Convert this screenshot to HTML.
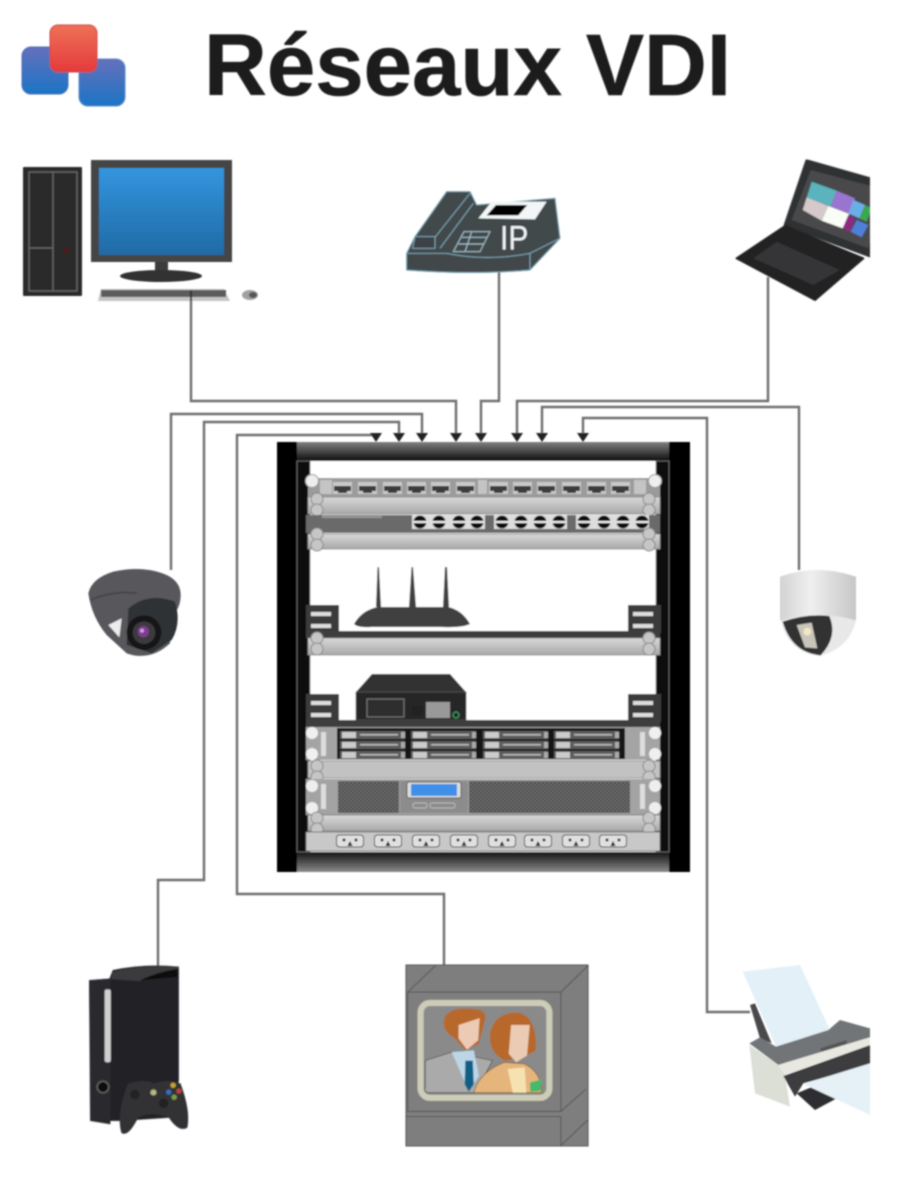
<!DOCTYPE html>
<html><head><meta charset="utf-8"><title>Réseaux VDI</title>
<style>html,body{margin:0;padding:0;background:#fff}svg{display:block}</style></head>
<body>
<svg xmlns="http://www.w3.org/2000/svg" width="908" height="1198" viewBox="0 0 908 1198" font-family="'Liberation Sans',sans-serif">
<defs>
<filter id="b" x="-5%" y="-5%" width="110%" height="110%"><feGaussianBlur stdDeviation="0.9"/></filter>
<linearGradient id="blue" x1="0" y1="0" x2="0" y2="1"><stop offset="0" stop-color="#6470bb"/><stop offset="1" stop-color="#1b74c6"/></linearGradient>
<linearGradient id="red" x1="0" y1="0" x2="0" y2="1"><stop offset="0" stop-color="#ee7056"/><stop offset="1" stop-color="#e43a3c"/></linearGradient>
<linearGradient id="scr" x1="0" y1="0" x2="0" y2="1"><stop offset="0" stop-color="#3395de"/><stop offset="1" stop-color="#1f6aa5"/></linearGradient>
<linearGradient id="top" x1="0" y1="0" x2="0" y2="1"><stop offset="0" stop-color="#808080"/><stop offset="1" stop-color="#0c0c0c"/></linearGradient>
<linearGradient id="bot" x1="0" y1="0" x2="0" y2="1"><stop offset="0" stop-color="#0c0c0c"/><stop offset="1" stop-color="#8a8a8a"/></linearGradient>
<linearGradient id="shelf" x1="0" y1="0" x2="0" y2="1"><stop offset="0" stop-color="#d8d8d8"/><stop offset="1" stop-color="#a8a8a8"/></linearGradient>
<linearGradient id="dome" x1="0" y1="0" x2="1" y2="0"><stop offset="0" stop-color="#d2d2d2"/><stop offset=".4" stop-color="#efefef"/><stop offset="1" stop-color="#c6c6c6"/></linearGradient>
<pattern id="mesh" width="4" height="4" patternUnits="userSpaceOnUse"><rect width="4" height="4" fill="#6d6d6d"/><circle cx="1" cy="1" r="1" fill="#3f3f3f"/><circle cx="3" cy="3" r="1" fill="#3f3f3f"/></pattern>
<g id="port"><rect x="0" y="0" width="19" height="12" fill="#c9c9c9"/><rect x="1" y="4" width="17" height="5" fill="#3a3a3a"/><rect x="5" y="8" width="9" height="3" fill="#3a3a3a"/></g>
<g id="rj"><circle r="6.5" fill="#0c0c0c"/><rect x="-7" y="-1" width="14" height="2" fill="#eee"/></g>
<g id="ear"><circle cx="0" cy="0" r="6" fill="#c6c6c6" stroke="#888"/><circle cx="0" cy="11" r="6" fill="#c6c6c6" stroke="#888"/></g>
<g id="outlet"><rect x="-13.500" y="-6" width="27" height="12" rx="3" fill="#e0e0e0" stroke="#444" stroke-width="1"/><circle cx="-6" cy="-1" r="1.500" fill="#111"/><circle cx="6" cy="-1" r="1.500" fill="#111"/><path d="M-2.500 5L0 0L2.500 5Z" fill="#111"/></g>
<g id="bay"><rect x="0" y="0" width="65" height="8" fill="#5c5c5c"/><rect x="2" y="1" width="14" height="6" fill="#ccc"/><rect x="20" y="3" width="38" height="1.500" fill="#bbb"/><rect x="61" y="1" width="4" height="6" fill="#aaa"/></g>
<g id="col"><use href="#bay" y="0"/><use href="#bay" y="10"/><use href="#bay" y="20"/></g>
<g id="brk"><rect x="0" y="0" width="33" height="28" fill="#3a3a3a"/><rect x="5" y="7" width="20" height="4" fill="#ddd"/><rect x="5" y="19" width="20" height="4" fill="#ddd"/></g>
<clipPath id="clipR"><rect x="0" y="0" width="870" height="1198"/></clipPath>
</defs>

<g filter="url(#b)">
<!-- Logo -->
<rect x="22" y="47" width="46" height="47" rx="9" fill="url(#blue)" stroke="#4a6fb0"/>
<rect x="79" y="59" width="46" height="47" rx="9" fill="url(#blue)" stroke="#5a8fc8"/>
<rect x="50" y="25" width="47" height="47" rx="8" fill="url(#red)" stroke="#cc4a48"/>
<!-- Title -->
<text x="204" y="95" font-size="87" font-weight="700" fill="#1c1c1c" stroke="#1c1c1c" stroke-width=".6" textLength="527" lengthAdjust="spacingAndGlyphs">Réseaux VDI</text>

<!-- Connectors -->
<g fill="none" stroke="#6e6e6e" stroke-width="2.400">
<path d="M191 292V401H456V434"/>
<path d="M499 270V401H481V434"/>
<path d="M768 277V401H517V434"/>
<path d="M799 570V407H542V434"/>
<path d="M750 1012H707V418H583V434"/>
<path d="M171 570V414H422V434"/>
<path d="M158 967V880H204V422H399V434"/>
<path d="M444 967V894H237V435H376"/>
</g>
<g fill="#222">
<path d="M370 433H382L376 442Z"/><path d="M393 433H405L399 442Z"/><path d="M416 433H428L422 442Z"/><path d="M450 433H462L456 442Z"/><path d="M475 433H487L481 442Z"/><path d="M511 433H523L517 442Z"/><path d="M536 433H548L542 442Z"/><path d="M577 433H589L583 442Z"/>
</g>

<!-- Desktop PC -->
<rect x="23" y="167" width="59" height="129" rx="1" fill="#2b2b2b"/>
<g fill="none" stroke="#6a6a6a" stroke-width="1.200">
<rect x="29" y="172" width="48" height="119"/><path d="M53 172V291M29 248H53"/>
</g>
<circle cx="66" cy="250" r="3" fill="#4a1a1a"/>
<rect x="91" y="160" width="141" height="102" fill="#444"/>
<rect x="99" y="168" width="125" height="87" fill="url(#scr)"/>
<rect x="155" y="262" width="13" height="12" fill="#3a3a3a"/>
<ellipse cx="161" cy="276" rx="41" ry="6" fill="#333"/>
<path d="M101 289H224L230 301H98Z" fill="#c4c4c4"/>
<rect x="101" y="290" width="125" height="7" fill="#5c5c5c"/>
<rect x="190" y="290" width="2" height="11" fill="#333"/>
<ellipse cx="250" cy="295" rx="8" ry="5" fill="#a0a0a0"/>
<ellipse cx="253" cy="295" rx="4" ry="3" fill="#555"/>

<!-- IP phone -->
<g transform="translate(390,150) scale(.33333)">
<path d="M50 310L75 260L170 125L240 125L260 165L495 145L510 265L420 360Q250 375 50 360Z" fill="#43484c" stroke="#7ba5b5" stroke-width="3"/>
<path d="M50 310H170Q290 335 420 310V360Q250 375 50 360Z" fill="#42464a" stroke="#7ba5b5" stroke-width="3"/>
<path d="M420 310L510 265" stroke="#7ba5b5" stroke-width="3"/>
<path d="M75 260H135V295H68Z" fill="#3d4246" stroke="#7ba5b5" stroke-width="3"/>
<path d="M135 262L240 130M150 295L250 160" stroke="#7ba5b5" stroke-width="3" fill="none"/>
<path d="M265 205L305 155H470L435 208Z" fill="#f2f6f7"/>
<path d="M290 196L318 165H412L385 196Z" fill="#000"/>
<path d="M222 245H300L270 305H190ZM215 262H290M205 282H280M245 245L225 305" fill="none" stroke="#a5c3cf" stroke-width="3"/>
<text x="330" y="298" font-size="104" fill="#f0f3f4" textLength="85" lengthAdjust="spacingAndGlyphs">IP</text>
</g>

<!-- Laptop -->
<g clip-path="url(#clipR)">
<g transform="translate(390,150) scale(.33333)">
<path d="M1250 32L1490 100L1445 320L1185 225Z" fill="#2e3033" stroke="#2e3033" stroke-width="8" stroke-linejoin="round"/>
<path d="M1262 60L1480 118L1435 295L1205 210Z" fill="#48494c"/>
<path d="M1265 95L1340 122L1322 170L1250 142Z" fill="#5ab3bd"/>
<path d="M1340 122L1395 145L1380 192L1322 170Z" fill="#9a74cf"/>
<path d="M1250 142L1315 168L1295 212L1238 180Z" fill="#d5c9cb"/>
<path d="M1315 168L1378 192L1358 235L1295 212Z" fill="#fafdf6"/>
<path d="M1390 150L1425 165L1408 205L1375 190Z" fill="#6aaee8"/>
<path d="M1425 165L1445 175L1430 215L1408 205Z" fill="#3aa850"/>
<path d="M1375 195L1395 205L1380 245L1358 235Z" fill="#8d2a80"/>
<path d="M1400 210L1435 225L1415 262L1382 245Z" fill="#4f80d8"/>
<path d="M1185 228L1420 325L1275 450L1040 325Z" fill="#222224" stroke="#222224" stroke-width="6" stroke-linejoin="round"/>
<path d="M1160 275L1350 360L1270 405L1090 325Z" fill="#353537"/>
</g>
</g>

<!-- Rack -->
<rect x="277" y="442" width="20" height="430" fill="#000"/>
<rect x="669" y="442" width="21" height="430" fill="#000"/>
<rect x="297" y="442" width="372" height="19" fill="url(#top)"/>
<rect x="297" y="851" width="372" height="21" fill="url(#bot)"/>
<rect x="297" y="461" width="372" height="391" fill="#fff"/>
<rect x="297" y="461" width="13" height="391" fill="#0c0c0c" stroke="#777" stroke-width=".8"/>
<rect x="656" y="461" width="13" height="391" fill="#0c0c0c" stroke="#777" stroke-width=".8"/>

<!-- unit1 patch panel -->
<rect x="308" y="478" width="352" height="19" fill="#9b9b9b"/>
<rect x="320" y="480" width="12" height="14" fill="#c4c4c4"/>
<rect x="478" y="480" width="9" height="14" fill="#c4c4c4"/>
<rect x="634" y="480" width="12" height="14" fill="#c4c4c4"/>
<use href="#port" x="333" y="482"/><use href="#port" x="358" y="482"/><use href="#port" x="383" y="482"/><use href="#port" x="407" y="482"/><use href="#port" x="431" y="482"/><use href="#port" x="456" y="482"/>
<use href="#port" x="489" y="482"/><use href="#port" x="513" y="482"/><use href="#port" x="537" y="482"/><use href="#port" x="562" y="482"/><use href="#port" x="587" y="482"/><use href="#port" x="611" y="482"/>
<circle cx="312" cy="481" r="6.500" fill="#eee" stroke="#999"/><circle cx="655" cy="481" r="6.500" fill="#eee" stroke="#999"/>
<rect x="308" y="497" width="352" height="17" fill="url(#shelf)" stroke="#888" stroke-width=".8"/>
<use href="#ear" x="317" y="499"/><use href="#ear" x="649" y="499"/>
<!-- unit2 switch -->
<rect x="306" y="515" width="354" height="18" fill="#6a6a6a"/>
<rect x="322" y="516" width="60" height="2" fill="#999"/>
<rect x="412" y="515" width="73" height="14" fill="#ddd"/><rect x="494" y="515" width="73" height="14" fill="#ddd"/><rect x="576" y="515" width="73" height="14" fill="#ddd"/>
<use href="#rj" x="420" y="522"/><use href="#rj" x="439" y="522"/><use href="#rj" x="459" y="522"/><use href="#rj" x="477" y="522"/><use href="#rj" x="502" y="522"/><use href="#rj" x="521" y="522"/><use href="#rj" x="540" y="522"/><use href="#rj" x="559" y="522"/><use href="#rj" x="584" y="522"/><use href="#rj" x="604" y="522"/><use href="#rj" x="623" y="522"/><use href="#rj" x="642" y="522"/>
<rect x="308" y="534" width="352" height="15" fill="url(#shelf)" stroke="#888" stroke-width=".8"/>
<use href="#ear" x="317" y="534"/><use href="#ear" x="649" y="534"/>

<!-- router -->
<path d="M376 607L377.500 567H379L381 607ZM409 607L411.500 567H413L416 607ZM443 607L445 567H447L449 607Z" fill="#404040"/>
<path d="M354 624Q362 610 378 607H448Q462 610 470 624Q462 628 440 627H372Q358 628 354 624Z" fill="#404040"/>
<use href="#brk" x="306" y="605"/><use href="#brk" x="628" y="605"/>
<rect x="306" y="631" width="354" height="7" fill="#3c3c3c"/>
<rect x="308" y="638" width="352" height="17" fill="url(#shelf)" stroke="#888" stroke-width=".8"/>
<use href="#ear" x="317" y="638"/><use href="#ear" x="649" y="638"/>

<!-- appliance on shelf -->
<path d="M356 692L372 674H450L466 692V720H356Z" fill="#333"/>
<rect x="356" y="692" width="110" height="28" fill="#262626" stroke="#555" stroke-width=".8"/>
<rect x="367" y="699" width="37" height="18" fill="#2e2e2e" stroke="#777"/>
<rect x="412" y="706" width="11" height="10" fill="#222"/>
<rect x="426" y="702" width="24" height="16" fill="#999"/>
<circle cx="456" cy="715" r="3" fill="none" stroke="#3aa060" stroke-width="1.200"/>
<use href="#brk" x="306" y="694"/><use href="#brk" x="628" y="694"/>
<rect x="306" y="720" width="354" height="7" fill="#3c3c3c"/>

<!-- NAS unit -->
<rect x="306" y="727" width="354" height="33" fill="#a4a4a4"/>
<rect x="337" y="728" width="288" height="31" fill="#141414"/>
<use href="#col" x="340" y="731"/><use href="#col" x="411" y="731"/><use href="#col" x="483" y="731"/><use href="#col" x="554" y="731"/>
<rect x="321" y="732" width="5" height="24" fill="#ddd"/><rect x="640" y="732" width="5" height="24" fill="#ddd"/>
<circle cx="312" cy="733" r="6" fill="#f0f0f0"/><circle cx="312" cy="754" r="6" fill="#f0f0f0"/>
<circle cx="655" cy="733" r="6" fill="#f0f0f0"/><circle cx="655" cy="754" r="6" fill="#f0f0f0"/>
<rect x="308" y="761" width="352" height="17" fill="#c2c2c2" stroke="#888" stroke-width=".8"/>
<use href="#ear" x="317" y="766"/><use href="#ear" x="649" y="766"/>

<!-- server -->
<rect x="306" y="779" width="354" height="36" fill="#a3a3a3"/>
<rect x="338" y="781" width="61" height="32" fill="url(#mesh)"/>
<rect x="469" y="781" width="161" height="32" fill="url(#mesh)"/>
<rect x="400" y="781" width="68" height="32" fill="#8c8c8c"/>
<rect x="407" y="782" width="54" height="16" rx="2" fill="#ddd" stroke="#555"/>
<rect x="411" y="784" width="46" height="12" fill="#3f8fe8"/>
<rect x="413" y="803" width="14" height="5" rx="2" fill="none" stroke="#bbb"/><rect x="430" y="803" width="25" height="5" rx="2" fill="none" stroke="#bbb"/>
<rect x="321" y="784" width="5" height="25" fill="#ddd"/><rect x="640" y="784" width="5" height="25" fill="#ddd"/>
<circle cx="312" cy="786" r="6" fill="#eee"/><circle cx="312" cy="808" r="6" fill="#eee"/>
<circle cx="655" cy="786" r="6" fill="#eee"/><circle cx="655" cy="808" r="6" fill="#eee"/>
<rect x="308" y="815" width="352" height="16" fill="url(#shelf)" stroke="#777" stroke-width=".8"/>
<use href="#ear" x="317" y="818"/><use href="#ear" x="649" y="818"/>
<!-- outlets -->
<rect x="306" y="832" width="354" height="19" fill="#c8c8c8" stroke="#666" stroke-width=".8"/>
<use href="#outlet" x="350" y="841"/><use href="#outlet" x="388" y="841"/><use href="#outlet" x="426" y="841"/><use href="#outlet" x="464" y="841"/><use href="#outlet" x="502" y="841"/><use href="#outlet" x="538" y="841"/><use href="#outlet" x="576" y="841"/><use href="#outlet" x="613" y="841"/>

<!-- Left dome -->
<g transform="translate(70,550) scale(.33333)">
<path d="M55 130Q65 85 130 65Q220 45 290 75Q332 95 332 135Q332 170 310 195L300 280Q240 335 170 310L110 255Q65 200 55 130Z" fill="#58585c"/>
<path d="M62 150Q130 120 200 130" stroke="#444" stroke-width="5" fill="none"/>
<path d="M115 225L155 205L148 262Z" fill="#ececec"/>
<path d="M175 175Q235 125 315 155Q335 220 305 270L245 310L170 285Z" fill="#2e3034"/>
<circle cx="222" cy="248" r="52" fill="#141416"/>
<circle cx="222" cy="248" r="34" fill="#3a3a3e"/>
<circle cx="220" cy="245" r="17" fill="#7b3d90"/>
<circle cx="216" cy="242" r="6" fill="#d69be0"/>
</g>

<!-- Right dome -->
<g transform="translate(730,550) scale(.33333)">
<path d="M150 80Q260 40 378 80V210Q260 245 150 210Z" fill="url(#dome)"/>
<path d="M152 212Q200 195 260 195Q330 195 378 212Q355 300 265 318Q175 305 152 212Z" fill="#e8e8e8"/>
<path d="M158 215Q230 190 298 198Q325 260 272 316Q185 308 158 215Z" fill="#333"/>
<path d="M200 225L245 218L262 295L225 292Z" fill="#c9c5ba"/>
<circle cx="232" cy="245" r="12" fill="#f2e7c4"/>
</g>

<!-- Xbox -->
<g transform="translate(70.400,948) scale(.339)">
<path d="M55 95L115 90L125 65Q220 45 320 55V390L300 500L150 510L60 510Z" fill="#232325"/>
<path d="M55 95L118 90V520L58 510Z" fill="#2c2c2e"/>
<path d="M125 70Q200 50 318 55V62Q260 72 205 98L118 92Z" fill="#3a3a3c"/>
<path d="M205 95Q260 70 315 62V85Q260 90 205 95Z" fill="#0a0a0a"/>
<rect x="101" y="122" width="18" height="215" rx="6" fill="#d0d0d0"/>
<circle cx="96" cy="410" r="17" fill="#111" stroke="#666" stroke-width="4"/>
<path d="M170 400Q225 385 245 400Q290 385 325 400Q355 480 345 530Q320 545 290 500Q240 480 200 500Q170 560 150 545Q135 490 170 400Z" fill="#333336"/>
<circle cx="303" cy="405" r="8" fill="#c9a030"/><circle cx="290" cy="425" r="8" fill="#3a6cc0"/><circle cx="320" cy="422" r="8" fill="#b8443a"/><circle cx="306" cy="440" r="8" fill="#76a040"/>
<circle cx="245" cy="426" r="9" fill="#b8b880"/>
<circle cx="190" cy="432" r="14" fill="#222"/><circle cx="275" cy="458" r="14" fill="#222"/>
</g>

<!-- TV -->
<g transform="translate(68.700,948.700) scale(.339)">
<path d="M995 48H1532V582H995Z" fill="#7e7e7e" stroke="#555" stroke-width="3"/>
<path d="M1000 128L1082 50M1452 128L1532 50M1000 128H1452V480H1000ZM1452 580L1532 505M1452 480L1525 415M995 495H1452V582" fill="none" stroke="#555" stroke-width="3"/>
<rect x="1038" y="160" width="380" height="280" rx="28" fill="#8a8a8a" stroke="#ccccb8" stroke-width="18"/>
<path d="M1052 330L1130 305L1250 330L1200 425H1060Q1046 420 1052 410Z" fill="#aaa" stroke="#444" stroke-width="2"/>
<path d="M1130 305L1195 300L1210 375L1180 420Z" fill="#bcd6e8"/>
<path d="M1170 330H1192L1195 400L1180 422L1168 400Z" fill="#0f5f86"/>
<path d="M1110 200Q1130 170 1195 178Q1235 180 1228 210L1210 280L1170 300L1140 265Q1095 240 1110 200Z" fill="#b8672a"/>
<path d="M1150 225L1212 205L1208 270L1175 298L1150 265Z" fill="#eccbb4"/>
<path d="M1245 240Q1262 188 1325 188Q1382 200 1378 300Q1340 325 1285 330Q1232 300 1245 240Z" fill="#b8672a"/>
<path d="M1305 225L1360 225L1352 315L1320 335L1298 310Z" fill="#eccbb4"/>
<path d="M1195 425Q1210 365 1285 335L1345 340Q1395 365 1395 425Z" fill="#e5b57c" stroke="#7a5a30" stroke-width="2"/>
<path d="M1295 355L1345 350L1350 425H1310Z" fill="#f5e2b0"/>
<path d="M1360 395L1395 385L1392 420L1362 422Z" fill="#4ab868"/>
</g>

<!-- Printer -->
<g clip-path="url(#clipR)">
<g transform="translate(700,950) scale(.33333)">
<path d="M128 65L300 45L390 240L228 290Z" fill="#e3f0f8"/>
<path d="M150 165L165 160L215 280L180 265Z" fill="#4a4a4c"/>
<path d="M148 280L180 262L228 290L385 240L420 210L510 235V262L235 345Z" fill="#727478"/>
<path d="M148 285L235 345L255 375L270 470L165 430Z" fill="#dcdfd6"/>
<path d="M235 345L510 262V285L255 375Z" fill="#e8e8e0"/>
<path d="M250 378L510 285V345L310 400L285 440Z" fill="#3d3d40"/>
<path d="M290 430L345 480L410 445L350 405Z" fill="#2e2e30"/>
<path d="M310 402L510 340V495Z" fill="#e6f1f7"/>
<path d="M360 295L440 270V282L365 305Z" fill="#555"/>
</g>
</g>
</g>
</svg>
</body></html>
